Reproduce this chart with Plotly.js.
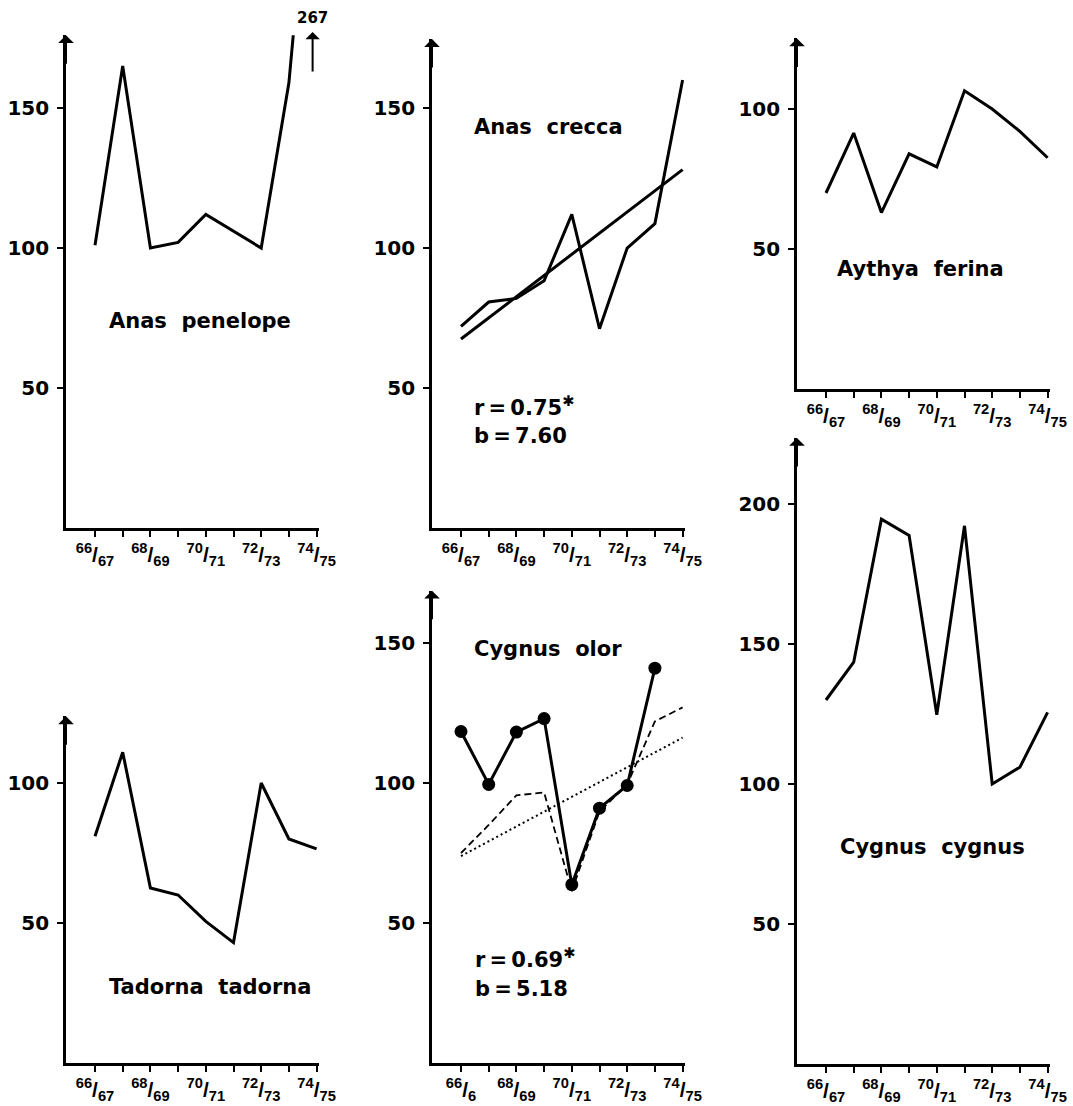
<!DOCTYPE html>
<html><head><meta charset="utf-8">
<script src="https://cdn.plot.ly/plotly-3.0.1.min.js"></script>
<style>html,body{margin:0;padding:0;background:#fff;} #chart{width:1073px;height:1106px;}</style>
</head><body><div id="chart"></div>
<script>
// ---------- data ----------
const seasons = ['66/67','67/68','68/69','69/70','70/71','71/72','72/73','73/74','74/75'];
const labelledSeasons = [0, 2, 4, 6, 8];
const unlabelledSeasons = [1, 3, 5, 7];
const tickLabels = ['<sup>66</sup>/<sub>67</sub>','<sup>68</sup>/<sub>69</sub>','<sup>70</sup>/<sub>71</sub>','<sup>72</sup>/<sub>73</sub>','<sup>74</sup>/<sub>75</sub>'];
const tickLabelsOlor = ['<sup>66</sup>/<sub>6</sub>','<sup>68</sup>/<sub>69</sub>','<sup>70</sup>/<sub>71</sub>','<sup>72</sup>/<sub>73</sub>','<sup>74</sup>/<sub>75</sub>'];

const anasPenelope   = [101, 165, 100, 102, 112, 106, 100, 159, 267];
const anasCrecca     = [72, 80.7, 82, 88.3, 112, 71.2, 100, 108.7, 160];
const anasCreccaTrend = [67.5, 128];          // fitted line at 66/67 and 74/75
const aythyaFerina   = [70, 91.4, 63, 84, 79.3, 106.5, 100, 92, 82.6];
const tadornaTadorna = [81, 111, 62.5, 60, 50.6, 43, 100, 80, 76.5];
const cygnusOlor     = [118.4, 99.5, 118.2, 123, 63.7, 91, 99.1, 141, null];
const cygnusOlorDashed = [75, 85, 95.6, 96.6, 61.4, 89.8, 99.5, 122, 127];
const cygnusOlorTrend = [73.9, 116.2];        // fitted line at 66/67 and 74/75
const cygnusCygnus   = [130, 143.5, 194.6, 188.8, 124.7, 192.2, 100, 106, 125.6];

const species = ['Anas  penelope','Anas  crecca','Aythya  ferina','Tadorna  tadorna','Cygnus  olor','Cygnus  cygnus'];
const creccaStats = {r: '0.75', b: '7.60'};
const olorStats   = {r: '0.69', b: '5.18'};
const offScaleValue = 267;

// ---------- layout helpers ----------
const W = 1073, H = 1106;
const idx = seasons.map((s, i) => i);
const PXU = 2.8;               // px per index unit on y
const STEP = 27.7;             // px per season
const xRange = [-29 / STEP, 8 + 2 / STEP];
const plotW = (xRange[1] - xRange[0]) * STEP;
const px = v => v / W;
const py = v => 1 - v / H;

const panels = [
  {left: 66,  bottom: 528,  ytop: 176,   yt: [50,100,150],     tt: tickLabels},
  {left: 432, bottom: 528,  ytop: 174.6, yt: [50,100,150],     tt: tickLabels},
  {left: 797, bottom: 389,  ytop: 125.2, yt: [50,100],         tt: tickLabels},
  {left: 66,  bottom: 1063, ytop: 123.8, yt: [50,100],         tt: tickLabels},
  {left: 432, bottom: 1063, ytop: 168.7, yt: [50,100,150],     tt: tickLabelsOlor},
  {left: 797, bottom: 1064, ytop: 223.6, yt: [50,100,150,200], tt: tickLabels}
];

const layout = {
  width: W, height: H, margin: {l:0, r:0, t:0, b:0},
  paper_bgcolor: '#fff', plot_bgcolor: 'rgba(0,0,0,0)',
  showlegend: false, annotations: []
};

const yFont = {family: 'DejaVu Sans', size: 20, weight: 'bold', color: '#000'};
const xFont = {family: 'Liberation Sans', size: 21, weight: 'bold', color: '#000'};
const labFont = {family: 'DejaVu Sans', size: 21, weight: 'bold', color: '#000'};

panels.forEach((p, i) => {
  const n = i === 0 ? '' : String(i + 1);
  const top = p.bottom - p.ytop * PXU;
  layout['xaxis' + n] = {
    domain: [px(p.left), px(p.left + plotW)], range: xRange, anchor: 'y' + n,
    showline: true, linewidth: 2.8, linecolor: '#000',
    ticks: 'outside', ticklen: 6, tickwidth: 2, tickcolor: '#000',
    tickmode: 'array', tickvals: labelledSeasons.map(k => idx[k]), ticktext: p.tt, tickfont: xFont,
    minor: {tickmode: 'array', tickvals: unlabelledSeasons.map(k => idx[k]), ticks: 'outside', ticklen: 6, tickwidth: 2, tickcolor: '#000', showgrid: false},
    showgrid: false, zeroline: false, fixedrange: true
  };
  layout['yaxis' + n] = {
    domain: [py(p.bottom), py(top)], range: [0, p.ytop], anchor: 'x' + n,
    showline: true, linewidth: 2.8, linecolor: '#000',
    ticks: 'outside', ticklen: 6, tickwidth: 2, tickcolor: '#000',
    tickmode: 'array', tickvals: p.yt, ticktext: p.yt.map(String), tickfont: yFont,
    ticklabelstandoff: 4,
    showgrid: false, zeroline: false, fixedrange: true
  };
  layout.annotations.push({
    xref: 'x' + n, yref: 'y' + n, x: xRange[0], y: p.ytop, text: '',
    showarrow: true, arrowhead: 1, arrowsize: 1.3, arrowwidth: 2, arrowcolor: '#000',
    ax: 0, ay: 30, standoff: 0
  });
});

const ax = n => ({xaxis: 'x' + n, yaxis: 'y' + n});
const solid = w => ({color: '#000', width: w});
const traces = [
  Object.assign({x: idx, y: anasPenelope, mode: 'lines', line: solid(3)}, ax('')),
  Object.assign({x: idx, y: anasCrecca, mode: 'lines', line: solid(3)}, ax('2')),
  Object.assign({x: [idx[0], idx[8]], y: anasCreccaTrend, mode: 'lines', line: solid(3)}, ax('2')),
  Object.assign({x: idx, y: aythyaFerina, mode: 'lines', line: solid(3)}, ax('3')),
  Object.assign({x: idx, y: tadornaTadorna, mode: 'lines', line: solid(3)}, ax('4')),
  Object.assign({x: [idx[0], idx[8]], y: cygnusOlorTrend, mode: 'lines', line: {color: '#000', width: 2, dash: '2px,3px'}}, ax('5')),
  Object.assign({x: idx, y: cygnusOlorDashed, mode: 'lines', line: {color: '#000', width: 1.8, dash: '7px,4px'}}, ax('5')),
  Object.assign({x: idx, y: cygnusOlor, mode: 'lines+markers', line: solid(3), marker: {color: '#000', size: 13}}, ax('5')),
  Object.assign({x: idx, y: cygnusCygnus, mode: 'lines', line: solid(3)}, ax('6'))
];

function label(text, xpx, ypx, anchor) {
  layout.annotations.push({
    xref: 'paper', yref: 'paper', x: px(xpx), y: py(ypx), text: text,
    showarrow: false, xanchor: anchor || 'center', yanchor: 'middle', font: labFont
  });
}
const nb = s => s.replace(/ /g, '\u00a0');
const star = '<sup>\u2731</sup>';
label(nb(species[0]), 200, 321);
label(nb(species[1]), 548, 127);
label('r\u2009=\u2009' + creccaStats.r + star, 472, 406, 'left');
label('b\u2009=\u2009' + creccaStats.b, 472, 436, 'left');
label(nb(species[2]), 920, 269);
label(nb(species[3]), 210, 987);
label(nb(species[4]), 548, 649);
label('r\u2009=\u2009' + olorStats.r + star, 473, 958, 'left');
label('b\u2009=\u2009' + olorStats.b, 473, 989, 'left');
label(nb(species[5]), 932, 847);

layout.annotations.push({
  xref: 'x', yref: 'paper', x: idx[8], xshift: -4, y: py(18), text: String(offScaleValue),
  showarrow: false, xanchor: 'center', yanchor: 'middle',
  font: {family: 'DejaVu Sans', size: 15, weight: 'bold', color: '#000'}
});
layout.annotations.push({
  xref: 'x', yref: 'paper', x: idx[8], xshift: -4, y: py(32), text: '',
  showarrow: true, arrowhead: 1, arrowsize: 1.2, arrowwidth: 2, arrowcolor: '#000',
  ax: 0, ay: 41, standoff: 0
});

Plotly.newPlot('chart', traces, layout, {staticPlot: true, displayModeBar: false});
</script>
</body></html>
